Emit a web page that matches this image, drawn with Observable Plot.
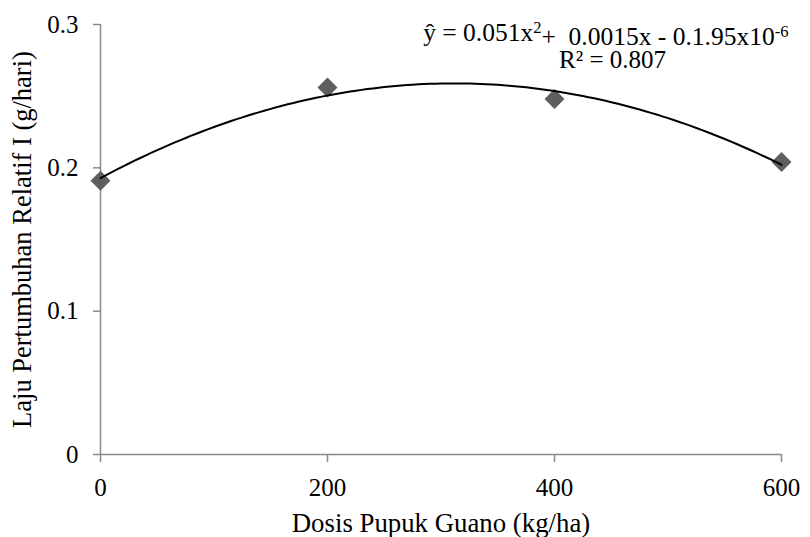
<!DOCTYPE html>
<html>
<head>
<meta charset="utf-8">
<script src="https://cdn.jsdelivr.net/npm/d3@7"></script>
<script src="https://cdn.jsdelivr.net/npm/@observablehq/plot@0.6"></script>
<style>
  html, body { margin: 0; padding: 0; background: #fff; }
  #chart svg { display: block; background: #fff; }
</style>
</head>
<body>
<div id="chart"></div>
<script>
// ---- data ----
const doses = [0, 200, 400, 600];                 // Dosis Pupuk Guano (kg/ha)
const rates = [0.191, 0.256, 0.248, 0.204];       // Laju Pertumbuhan Relatif I (g/hari)
const xTicks = [0, 200, 400, 600];
const yTicks = [0, 0.1, 0.2, 0.3];
const xLabel = "Dosis Pupuk Guano (kg/ha)";
const yLabel = "Laju Pertumbuhan Relatif I (g/hari)";
// equation line 1 as pieces (sup = superscript)
const eqParts = [
  {t: "ŷ = 0.051x"}, {t: "2", sup: true}, {t: "+  0.0015x - 0.1.95x10"}, {t: "-6", sup: true}
];
const eqLine1 = eqParts.map(p => p.t).join("");
const eqLine2 = "R² = 0.807";

const points = doses.map((d, i) => ({dose: d, rate: rates[i]}));

// Polynomial (order 2) trendline: least-squares fit of the data points
function quadFit(xs, ys) {
  const n = xs.length;
  let s = [0,0,0,0,0], t = [0,0,0];
  for (let i = 0; i < n; i++) {
    const x = xs[i], y = ys[i];
    for (let k = 0; k < 5; k++) s[k] += Math.pow(x, k);
    for (let k = 0; k < 3; k++) t[k] += y * Math.pow(x, k);
  }
  const A = [[s[0],s[1],s[2],t[0]],[s[1],s[2],s[3],t[1]],[s[2],s[3],s[4],t[2]]];
  for (let c = 0; c < 3; c++) {
    for (let r = c + 1; r < 3; r++) {
      const f = A[r][c] / A[c][c];
      for (let k = c; k < 4; k++) A[r][k] -= f * A[c][k];
    }
  }
  const b = [0,0,0];
  for (let r = 2; r >= 0; r--) {
    let v = A[r][3];
    for (let k = r + 1; k < 3; k++) v -= A[r][k] * b[k];
    b[r] = v / A[r][r];
  }
  return x => b[0] + b[1] * x + b[2] * x * x;
}
const fit = quadFit(doses, rates);
const trend = d3.range(0, 600.001, 5).map(x => ({dose: x, rate: fit(x)}));

const axisGray = "#898989";
const font = "'Liberation Serif', 'DejaVu Serif', serif";

const chart = Plot.plot({
  width: 810,
  height: 537,
  marginLeft: 100,
  marginRight: 29,
  marginTop: 24,
  marginBottom: 83,
  x: {domain: [0, 600]},
  y: {domain: [0, 0.3]},
  marks: [
    Plot.ruleY([0], {stroke: axisGray, strokeWidth: 1.5}),
    Plot.ruleX([0], {stroke: axisGray, strokeWidth: 1.5}),
    Plot.axisX({ticks: xTicks, tickSize: 8, tickPadding: 16, stroke: axisGray, strokeWidth: 1.5,
                fill: "#000", fontSize: 25, tickFormat: d => String(d), label: null}),
    Plot.axisY({ticks: yTicks, tickSize: 7, tickPadding: 15, stroke: axisGray, strokeWidth: 1.5,
                fill: "#000", fontSize: 25, tickFormat: d => String(d), label: null}),
    Plot.dot(points, {x: "dose", y: "rate", symbol: "diamond2", r: 9, fill: "#5f5f5f", stroke: "none"}),
    Plot.line(trend, {x: "dose", y: "rate", stroke: "#000", strokeWidth: 2, curve: "linear"}),
    Plot.text([xLabel], {frameAnchor: "bottom", textAnchor: "middle", lineAnchor: "bottom", dy: 77, fontSize: 26.8, fill: "#000"}),
    Plot.text([yLabel], {frameAnchor: "left", textAnchor: "middle", lineAnchor: "bottom", rotate: -90, dx: -70, fontSize: 26.5, fill: "#000"}),
    Plot.text([eqLine1], {frameAnchor: "top-right", textAnchor: "end", lineAnchor: "bottom", dx: 7, dy: 16, fontSize: 25.5, fill: "#000"}),
    Plot.text([eqLine2], {frameAnchor: "top-right", textAnchor: "middle", lineAnchor: "bottom", dx: -169, dy: 43, fontSize: 25, fill: "#000"})
  ]
});
chart.style.fontFamily = font;
d3.select(chart).selectAll("g").style("font-family", font);
d3.select(chart).selectAll("text").style("font-family", font);
// rebuild equation line 1 with real superscripts
d3.select(chart).selectAll("text").filter(function() { return this.textContent === eqLine1; })
  .each(function() {
    const el = d3.select(this);
    el.text(null).style("white-space", "pre");
    let raised = false;
    for (const p of eqParts) {
      const ts = el.append("tspan").text(p.t).style("white-space", "pre");
      if (p.sup && !raised) { ts.attr("dy", "-0.45em").attr("font-size", "0.65em"); raised = true; }
      else if (!p.sup && raised) { ts.attr("dy", "0.45em"); raised = false; }
    }
  });
document.getElementById("chart").appendChild(chart);
</script>
</body>
</html>
